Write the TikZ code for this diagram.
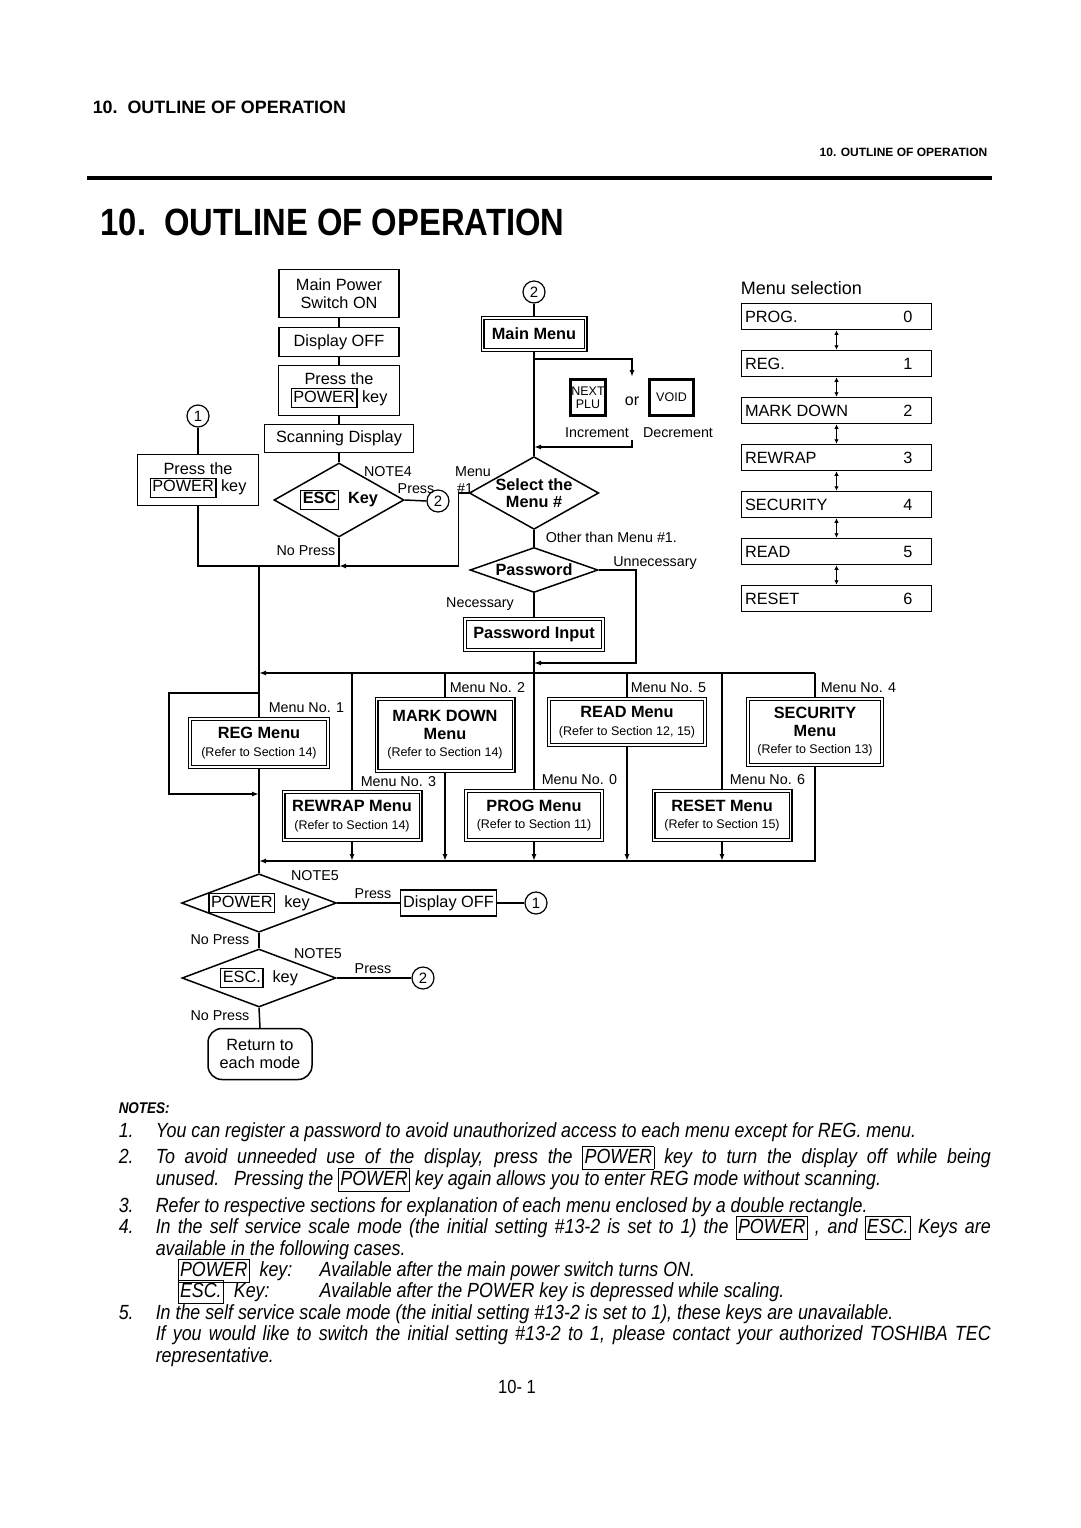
\documentclass[tikz,border=0pt]{standalone}
\usepackage{fontspec}
\setmainfont{Liberation Sans}
\newfontfamily\narrowfont[FakeStretch=0.87]{Liberation Sans}
\newfontfamily\titlefont[FakeStretch=0.862]{Liberation Sans}
\usetikzlibrary{shapes.geometric,arrows.meta}

\newcommand{\boxfont}{\fontsize{16.3}{17.5}\selectfont}
\newcommand{\labfont}{\fontsize{14.3}{16}\selectfont}
\newcommand{\reffont}{\fontsize{12.5}{14}\selectfont}
\newcommand{\keyfont}{\fontsize{12.5}{13}\selectfont}
\newcommand{\notefont}{\narrowfont\itshape\fontsize{20.5}{22}\selectfont}
\newcommand{\kbox}[1]{{\setlength{\fboxsep}{1.5pt}\setlength{\fboxrule}{1.2pt}\fbox{\vphantom{Ag}#1}}}
\newcommand{\nkey}[1]{{\setlength{\fboxsep}{1.5pt}\setlength{\fboxrule}{0.8pt}\fbox{\vphantom{Ag}#1}}}
\newcommand{\refer}[1]{{\reffont\mdseries (Refer to Section #1)}}

\begin{document}
\begin{tikzpicture}[
  x=1pt, y=-1pt, line width=1.5pt,
  sbox/.style={draw, inner sep=0pt, align=center, font=\boxfont},
  dbox/.style={draw, double, double distance=1.8pt, line width=1.1pt,
               inner sep=0pt, align=center, font=\boxfont\bfseries},
  dia/.style={diamond, draw, inner sep=0pt, align=center, font=\boxfont},
  cnum/.style={circle, draw, line width=1.2pt, minimum size=22pt, inner sep=0pt,
               font=\fontsize{15}{15}\selectfont},
  kkey/.style={draw, line width=2.8pt, inner sep=0pt, align=center, font=\keyfont},
  msel/.style={draw, minimum width=190pt, minimum height=26pt, inner sep=0pt,
               font=\boxfont},
  lab/.style={font=\labfont, inner sep=0pt},
  note/.style={font=\notefont, inner sep=0pt, anchor=base west},
  arr/.style={-{Latex[length=7pt,width=5pt]}},
  dbl/.style={{Latex[length=4.5pt,width=4.5pt]}-{Latex[length=4.5pt,width=4.5pt]},
              line width=1.1pt}]

  \fill[white] (0,0) rectangle (1080,1528);
  \useasboundingbox (0,0) rectangle (1080,1528);

  % ---- page header --------------------------------------------------------
  \node[anchor=west, inner sep=0pt, font=\fontsize{17.9}{18}\selectfont\bfseries]
    (hdrL) at (92,107) {10.\ \ OUTLINE OF OPERATION};
  \node[anchor=east, inner sep=0pt, font=\fontsize{12}{12}\selectfont\bfseries]
    (hdrR) at (988,152) {10. OUTLINE OF OPERATION};
  \draw[line width=4pt] (87,178) -- (992,178);
  \node[anchor=west, inner sep=0pt, font=\titlefont\fontsize{38}{40}\selectfont\bfseries]
    (title) at (100,222) {10.\ \ OUTLINE OF OPERATION};

  % ---- power on column ----------------------------------------------------
  \node[sbox, minimum width=120pt, minimum height=48pt] (mainpw) at (339,293.5) {Main Power\\Switch ON};
  \node[sbox, minimum width=120pt, minimum height=29pt] (dispoff) at (339,342) {Display OFF};
  \node[sbox, minimum width=121pt, minimum height=50pt] (presspw) at (339,390.5) {Press the\\\kbox{POWER} key};
  \node[sbox, minimum width=149pt, minimum height=28pt] (scan) at (339,438.5) {Scanning Display};
  \node[dia, font=\boxfont\bfseries, minimum width=130pt, minimum height=74pt, aspect=1.75]
    (esc) at (339,500) {\kbox{ESC}\ \ Key};
  \node[cnum] (c2a) at (438,501) {2};

  \node[cnum] (c1a) at (198,416) {1};
  \node[sbox, minimum width=121pt, minimum height=51pt] (pressL) at (198,480) {Press the\\\kbox{POWER} key};

  % ---- main menu ----------------------------------------------------------
  \node[cnum] (c2b) at (534,292) {2};
  \node[dbox, minimum width=103pt, minimum height=32pt] (mainmenu) at (534,334) {Main Menu};
  \node[kkey, minimum width=35pt, minimum height=36pt] (knext) at (588,397.5) {NEXT\\PLU};
  \node[lab, font=\fontsize{16}{16}\selectfont] (ortxt) at (632,401) {or};
  \node[kkey, minimum width=44pt, minimum height=36pt] (kvoid) at (671.5,397.5) {VOID};
  \node[lab] (incr) at (597,433) {Increment};
  \node[lab] (decr) at (678,433) {Decrement};
  \node[dia, font=\boxfont\bfseries, minimum width=128pt, minimum height=72pt, aspect=1.78]
    (select) at (534,493) {Select the\\Menu \#};
  \node[dia, font=\boxfont\bfseries, minimum width=128pt, minimum height=45pt, aspect=2.8]
    (passwd) at (534,570) {Password};
  \node[dbox, minimum width=138pt, minimum height=31pt] (pwin) at (534,634.5) {Password Input};

  % ---- menus --------------------------------------------------------------
  \node[dbox, minimum width=138pt, minimum height=48pt] (reg) at (259,743) {REG Menu\\\refer{14}};
  \node[dbox, minimum width=137pt, minimum height=72pt] (markdown) at (445,735) {MARK DOWN\\Menu\\\refer{14}};
  \node[dbox, minimum width=156pt, minimum height=46pt] (read) at (627,722) {READ Menu\\\refer{12, 15}};
  \node[dbox, minimum width=134pt, minimum height=66pt] (security) at (815,732) {SECURITY\\Menu\\\refer{13}};
  \node[dbox, minimum width=137pt, minimum height=48pt] (rewrap) at (352,816) {REWRAP Menu\\\refer{14}};
  \node[dbox, minimum width=136pt, minimum height=49pt] (prog) at (534,815.5) {PROG Menu\\\refer{11}};
  \node[dbox, minimum width=137pt, minimum height=49pt] (reset) at (722,815.5) {RESET Menu\\\refer{15}};

  % ---- leaving the menus --------------------------------------------------
  \node[dia, minimum width=154pt, minimum height=58pt, aspect=2.65] (power) at (259,903) {\kbox{POWER}\ \ key};
  \node[sbox, minimum width=96pt, minimum height=26pt] (dispoff2) at (448.5,903) {Display OFF};
  \node[cnum] (c1b) at (536,903) {1};
  \node[dia, minimum width=154pt, minimum height=58pt, aspect=2.65] (escb) at (259,978) {\kbox{ESC.}\ \ key};
  \node[cnum] (c2c) at (423,978) {2};
  \node[sbox, rounded corners=14pt, minimum width=104pt, minimum height=51pt] (ret) at (260,1054) {Return to\\each mode};

  % ---- menu selection list ------------------------------------------------
  \node[anchor=west, inner sep=0pt, font=\fontsize{18}{18}\selectfont] (mshead) at (740,288) {Menu selection};
  \foreach \i/\n/\v in {0/PROG./0, 1/REG./1, 2/MARK DOWN/2, 3/REWRAP/3, 4/SECURITY/4, 5/READ/5, 6/RESET/6} {
    \node[msel] (ms\i) at (836.5,316.5+47*\i) {\makebox[183pt][l]{\n\hfill\makebox[40pt]{\v}}};
  }
  \foreach \i/\j in {0/1, 1/2, 2/3, 3/4, 4/5, 5/6} { \draw[dbl] (ms\i.south) -- (ms\j.north); }

  % ---- labels -------------------------------------------------------------
  \node[lab] (note4) at (388,472) {NOTE4};
  \node[lab] (pressA) at (416,489) {Press};
  \node[lab] (nopressA) at (306,551) {No Press};
  \node[lab] (menu1a) at (473,472) {Menu};
  \node[lab] (menu1b) at (465,489) {\#1};
  \node[lab, anchor=west] (other) at (545,537) {Other than Menu \#1.};
  \node[lab] (unnec) at (655,563) {Unnecessary};
  \node[lab] (nec) at (480,604) {Necessary};
  \foreach \n/\x/\y in {1/268/708, 2/449/688, 5/630/688, 4/820/688, 3/360/782, 0/541/780, 6/729/780} {
    \node[lab, anchor=west] (mno\n) at (\x,\y) {Menu No. \n};
  }
  \node[lab] (note5a) at (315,876) {NOTE5};
  \node[lab] (pressB) at (373,894) {Press};
  \node[lab] (nopressB) at (220,940) {No Press};
  \node[lab] (note5b) at (318,954) {NOTE5};
  \node[lab] (pressC) at (373,969) {Press};
  \node[lab] (nopressC) at (220,1016) {No Press};

  % ---- connectors ---------------------------------------------------------
  \draw (mainpw.south) -- (dispoff.north);
  \draw (dispoff.south) -- (presspw.north);
  \draw (presspw.south) -- (scan.north);
  \draw (scan.south) -- (esc.north);
  \draw (esc.east) -- (c2a.west);
  \draw (c1a.south) -- (pressL.north);

  \draw (c2b.south) -- (mainmenu.north);
  \draw (mainmenu.south) -- (select.north);
  \coordinate (mmtap) at (534,359);
  \coordinate (loopin) at (632,377);
  \coordinate (loopout) at (632,440);
  \coordinate (selin) at (534,447);
  \draw[arr] (mmtap) -| (loopin);
  \draw[arr] (loopout) |- (selin);
  \draw (select.south) -- (passwd.north);
  \draw (passwd.south) -- (pwin.north);
  \coordinate (pwtap) at (534,663);
  \draw[arr] (passwd.east) -- ++(37,0) |- (pwtap);

  \coordinate (jA) at (339,566);
  \coordinate (jL) at (259,566);
  \draw (pressL.south) |- (jL);
  \draw (esc.south) |- (jL);
  \draw[arr] (select.west) -- ++(-10,0) |- (jA);
  \draw (jL) -- (reg.north);

  \coordinate (busL) at (259,673);
  \coordinate (busR) at (815,673);
  \draw[arr] (busR) -- (busL);
  \draw (pwin.south) -- (prog.north);
  \foreach \m in {rewrap, markdown, read, reset, security} { \draw (\m.north |- busR) -- (\m.north); }

  \coordinate (lpA) at (259,693);
  \coordinate (lpB) at (259,794);
  \draw[arr] (lpA) -- ++(-90,0) |- (lpB);
  \draw (reg.south) -- (power.north);

  \coordinate (busBL) at (259,861);
  \draw[arr] (security.south) |- (busBL);
  \foreach \m in {rewrap, markdown, prog, read, reset} { \draw[arr] (\m.south) -- (\m.south |- busBL); }

  \draw (power.east) -- (dispoff2.west);
  \draw (dispoff2.east) -- (c1b.west);
  \draw (power.south) -- (escb.north);
  \draw (escb.east) -- (c2c.west);
  \draw (escb.south) -- (ret.north);

  % ---- notes --------------------------------------------------------------
  \node[note, font=\narrowfont\fontsize{15.5}{16}\selectfont\bfseries\itshape] (notes) at (118,1113) {NOTES:};
  \foreach \n/\y in {1/1137, 2/1163, 3/1212, 4/1233, 5/1319} { \node[note] (num\n) at (118,\y) {\n.}; }
  \node[note] (n1) at (155,1137) {You can register a password to avoid unauthorized access to each menu except for REG. menu.};
  \node[note] (n2a) at (155,1163) {\makebox[835pt][s]{To avoid unneeded use of the display, press the \nkey{POWER} key to turn the display off while being}};
  \node[note] (n2b) at (155,1185) {unused.\ \ \ Pressing the \nkey{POWER} key again allows you to enter REG mode without scanning.};
  \node[note] (n3) at (155,1212) {Refer to respective sections for explanation of each menu enclosed by a double rectangle.};
  \node[note] (n4a) at (155,1233) {\makebox[835pt][s]{In the self service scale mode (the initial setting \#13-2 is set to 1) the \nkey{POWER} , and \nkey{ESC.} Keys are}};
  \node[note] (n4b) at (155,1255) {available in the following cases.};
  \node[note] (n4c) at (177,1276) {\makebox[142pt][l]{\nkey{POWER}\ \ key:}Available after the main power switch turns ON.};
  \node[note] (n4d) at (177,1297) {\makebox[142pt][l]{\nkey{ESC.}\ \ Key:}Available after the POWER key is depressed while scaling.};
  \node[note] (n5a) at (155,1319) {In the self service scale mode (the initial setting \#13-2 is set to 1), these keys are unavailable.};
  \node[note] (n5b) at (155,1340) {\makebox[835pt][s]{If you would like to switch the initial setting \#13-2 to 1, please contact your authorized TOSHIBA TEC}};
  \node[note] (n5c) at (155,1362) {representative.};
  \node[lab, font=\narrowfont\fontsize{19}{19}\selectfont] (pageno) at (517,1387) {10- 1};
\end{tikzpicture}
\end{document}
